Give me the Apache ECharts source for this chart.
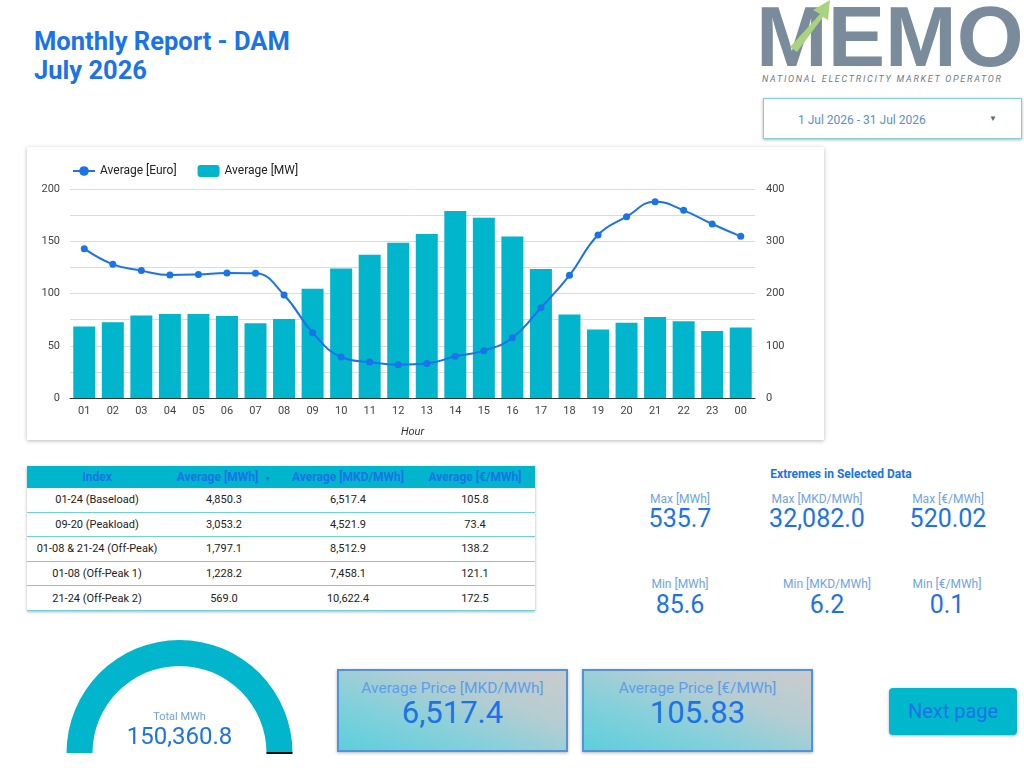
<!DOCTYPE html>
<html><head><meta charset="utf-8">
<script src="https://cdn.jsdelivr.net/npm/echarts/dist/echarts.min.js"></script>
<style>
html,body{margin:0;padding:0;width:1024px;height:768px;overflow:hidden;background:#fff;font-family:Roboto,'Noto Sans',sans-serif;}
.abs{position:absolute;white-space:nowrap;}
.title{left:34px;top:27px;font-size:25.5px;font-weight:700;color:#1a73e8;line-height:29px;}
.memo{left:756px;top:-7px;font-family:'Liberation Sans',Arial,sans-serif;font-weight:700;font-size:86px;line-height:86px;color:#7a8b9b;}
.sub{left:762px;top:73px;font-size:9px;font-style:italic;letter-spacing:1.75px;color:#6c7a89;line-height:12px;}
.dd{left:763px;top:98px;width:257px;height:39px;border:1.5px solid #7fd0d8;box-shadow:0 1px 3px rgba(0,0,0,.3);background:#fff;}
.dd span{position:absolute;left:34px;top:14px;font-size:12px;color:#5a8fd0;}
.dd i{position:absolute;left:225px;top:15px;font-size:8px;color:#666;font-style:normal;}
#card{position:absolute;left:27px;top:147px;width:797px;height:293px;background:#fff;box-shadow:0 1px 4px rgba(0,0,0,.28);}
#chart{width:797px;height:293px;}
#tbl{position:absolute;left:27px;top:466px;width:508px;box-shadow:0 1px 3px rgba(0,0,0,.3);}
table{border-collapse:collapse;width:508px;table-layout:fixed;font-size:11px;color:#222;}
th{background:#00b5cc;color:#1a73e8;font-weight:700;height:22px;font-size:12px;padding:0;text-align:center;}
td{height:23.6px;border-bottom:1px solid #6fd0da;text-align:center;padding:0;}
.lbl{font-size:12px;color:#6fa3e8;text-align:center;width:200px;}
.val{font-size:25px;color:#1a73e8;text-align:center;width:200px;}
.kpi{width:227px;height:79px;border:2px solid #4f93e0;background:linear-gradient(to top right,#5ccfdc 0%,#86d0da 35%,#b4cdd2 65%,#cbcbcd 100%);box-shadow:0 1px 3px rgba(0,0,0,.3);}
.kpi .k1{position:absolute;left:0;width:227px;top:8px;text-align:center;font-size:15.5px;color:#5e9ee8;}
.kpi .k2{position:absolute;left:0;width:227px;top:23px;text-align:center;font-size:31px;color:#1a73e8;}
#btn{left:889px;top:688px;width:128px;height:47px;background:#00b8cc;border-radius:4px;box-shadow:0 1px 3px rgba(0,0,0,.3);color:#1a73e8;font-size:20px;text-align:center;line-height:47px;}
#gauge{position:absolute;left:55px;top:630px;width:250px;height:125px;}
</style></head>
<body>
<div class="abs title">Monthly Report - DAM<br>July 2026</div>
<div class="abs memo">MEMO</div>
<svg class="abs" style="left:760px;top:0px" width="80" height="60">
  <polygon points="30,47 60,14 53,10 70,0 68,20 63,17 37,52" fill="#a9d37e"/>
</svg>
<div class="abs sub">NATIONAL ELECTRICITY MARKET OPERATOR</div>
<div class="abs dd"><span id="ddtext"></span><i>▼</i></div>
<div id="card"><div id="chart"></div></div>
<div id="tbl"></div>
<div id="extremes"></div>
<div id="gauge"></div>
<div id="kpis"></div>
<div class="abs" id="btn">Next page</div>
<script>
// ---- data ----
const dateRange = '1 Jul 2026 - 31 Jul 2026';
const hours = ['01','02','03','04','05','06','07','08','09','10','11','12','13','14','15','16','17','18','19','20','21','22','23','00'];
const avgEuro = [142.9,127.9,121.9,117.7,118.3,119.6,119.3,98.6,62.5,39.2,34.4,31.9,32.9,39.9,45.3,57.7,86.4,117.4,156.0,173.5,187.9,179.6,166.5,154.7];
const avgMW = [137,145,158,161,161,157,143,151,209,248,274,297,314,358,345,309,247,160,131,144,155,147,128,135];
const tableHeaders = ['Index','Average [MWh]','Average [MKD/MWh]','Average [€/MWh]'];
const tableIndex = ['01-24 (Baseload)','09-20 (Peakload)','01-08 & 21-24 (Off-Peak)','01-08 (Off-Peak 1)','21-24 (Off-Peak 2)'];
const tableMWh = [4850.3,3053.2,1797.1,1228.2,569.0];
const tableMKD = [6517.4,4521.9,8512.9,7458.1,10622.4];
const tableEUR = [105.8,73.4,138.2,121.1,172.5];
const maxLabels = ['Max [MWh]','Max [MKD/MWh]','Max [€/MWh]'];
const maxValues = ['535.7','32,082.0','520.02'];
const minLabels = ['Min [MWh]','Min [MKD/MWh]','Min [€/MWh]'];
const minValues = ['85.6','6.2','0.1'];
const totalMWh = 150360.8;
const kpiLabels = ['Average Price [MKD/MWh]','Average Price [€/MWh]'];
const kpiValues = ['6,517.4','105.83'];

const fmt1 = v => v.toLocaleString('en-US',{minimumFractionDigits:1,maximumFractionDigits:1});
document.getElementById('ddtext').textContent = dateRange;

// table
let h = '<table><colgroup><col style="width:140px"><col style="width:114px"><col style="width:134px"><col style="width:120px"></colgroup><tr>';
tableHeaders.forEach((t,i)=>{ h += '<th>'+t+(i===1?' <span style="font-size:7px;margin-left:3px">▼</span>':'')+'</th>'; });
h += '</tr>';
tableIndex.forEach((t,i)=>{ h += '<tr><td>'+t.replace('&','&amp;')+'</td><td>'+fmt1(tableMWh[i])+'</td><td>'+fmt1(tableMKD[i])+'</td><td>'+fmt1(tableEUR[i])+'</td></tr>'; });
h += '</table>';
document.getElementById('tbl').innerHTML = h;

// extremes
let e = '<div class="abs" style="left:741px;top:467px;width:200px;text-align:center;font-size:12px;font-weight:700;color:#1a73e8">Extremes in Selected Data</div>';
const maxX = [680,817,948], minX = [680,827,947];
maxLabels.forEach((t,i)=>{ e += '<div class="abs lbl" style="left:'+(maxX[i]-100)+'px;top:492px">'+t+'</div><div class="abs val" style="left:'+(maxX[i]-100)+'px;top:504px">'+maxValues[i]+'</div>'; });
minLabels.forEach((t,i)=>{ e += '<div class="abs lbl" style="left:'+(minX[i]-100)+'px;top:577px">'+t+'</div><div class="abs val" style="left:'+(minX[i]-100)+'px;top:590px">'+minValues[i]+'</div>'; });
document.getElementById('extremes').innerHTML = e;

// kpis
const kpiX = [337,582];
let k = '';
kpiLabels.forEach((t,i)=>{ k += '<div class="abs kpi" style="left:'+kpiX[i]+'px;top:669px"><div class="k1">'+t+'</div><div class="k2">'+kpiValues[i]+'</div></div>'; });
document.getElementById('kpis').innerHTML = k;

// main chart
const chart = echarts.init(document.getElementById('chart'));
chart.setOption({
  animation:false,
  textStyle:{fontFamily:'Roboto'},
  legend:{left:40,top:13,itemWidth:22,itemHeight:12,itemGap:21,
    data:['Average [Euro]','Average [MW]'],
    textStyle:{fontSize:12,color:'#222',fontFamily:'Roboto'}},
  grid:{left:43,right:69,top:42,bottom:42,containLabel:false,outerBoundsMode:'none'},
  xAxis:{type:'category',data:hours,
    axisTick:{show:false},
    axisLine:{lineStyle:{color:'#333',width:1}},
    axisLabel:{color:'#444',fontSize:11,margin:8,fontFamily:'Roboto'},
    name:'Hour',nameLocation:'middle',nameGap:29,
    nameTextStyle:{fontStyle:'italic',fontSize:11,color:'#333',fontFamily:'Roboto'}},
  yAxis:[
    {type:'value',min:0,max:200,interval:25,
     axisLine:{show:false},axisTick:{show:false},
     splitLine:{lineStyle:{color:'#dcdcdc',width:1}},
     axisLabel:{color:'#444',fontSize:11,margin:10,fontFamily:'Roboto',formatter:v=>v%50===0?String(v):''}},
    {type:'value',min:0,max:400,interval:50,
     axisLine:{show:false},axisTick:{show:false},splitLine:{show:false},
     axisLabel:{color:'#444',fontSize:11,margin:11,fontFamily:'Roboto',formatter:v=>v%100===0?String(v):''}}
  ],
  series:[
    {name:'Average [MW]',type:'bar',yAxisIndex:1,data:avgMW,barCategoryGap:'23%',
     itemStyle:{color:'#00b5cc'}},
    {name:'Average [Euro]',type:'line',yAxisIndex:0,data:avgEuro,smooth:0.45,
     symbol:'circle',symbolSize:7,
     lineStyle:{color:'#1a73e8',width:2},itemStyle:{color:'#1a73e8'}}
  ]
});

// gauge
const g = echarts.init(document.getElementById('gauge'));
g.setOption({
  animation:false,
  series:[
    {type:'gauge',center:[124.5,123],radius:113,startAngle:180,endAngle:0,min:0,max:totalMWh,
     axisLine:{lineStyle:{width:26,color:[[1,'#00b5cc']]}},
     pointer:{show:false},progress:{show:false},anchor:{show:false},
     axisTick:{show:false},splitLine:{show:false},axisLabel:{show:false},
     title:{offsetCenter:[0,-36],fontSize:11,color:'#6fa3e8',fontFamily:'Roboto'},
     detail:{offsetCenter:[0,-15],fontSize:24,fontWeight:'normal',color:'#1a73e8',fontFamily:'Roboto',formatter:v=>fmt1(v)},
     data:[{value:totalMWh,name:'Total MWh'}]},
    {type:'gauge',center:[124.5,123],radius:113,startAngle:0,endAngle:-90,min:0,max:1,splitNumber:1,
     axisLine:{show:true,lineStyle:{width:26,color:[[1,'rgba(0,0,0,0)']]}},
     pointer:{show:false},progress:{show:false},anchor:{show:false},
     axisTick:{show:false},axisLabel:{show:false},
     splitLine:{show:true,distance:-26,length:26,lineStyle:{color:'#111',width:2}},
     title:{show:false},detail:{show:false},
     data:[{value:0}]}
  ]
});
</script>
</body></html>
